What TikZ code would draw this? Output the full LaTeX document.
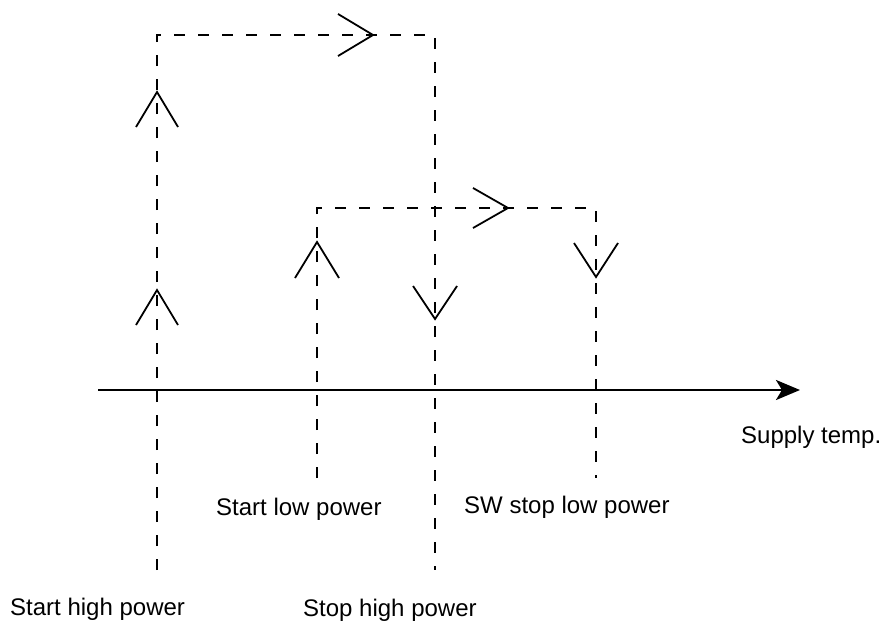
\documentclass[tikz,border=0pt]{standalone}
\usepackage{fontspec}
\setmainfont{Liberation Sans}
\usetikzlibrary{arrows.meta}

\begin{document}
\begin{tikzpicture}[x=1pt,y=-1pt]
\tikzstyle{every node}+=[inner sep=0pt,font=\fontsize{24}{28}\selectfont]
\tikzstyle{trip}=[black,line width=1.6pt,dash pattern=on 11pt off 13pt]
\tikzstyle{chev}=[black,line width=1.8pt]
\useasboundingbox (0,0) rectangle (881,621);
% temperature axis
\coordinate (ax0) at (98,390);
\coordinate (ax1) at (800,390);
\draw [black,line width=2.6pt,-{Stealth[length=24pt,width=20pt,inset=6pt]}] (ax0) -- (ax1);
\node [anchor=base west] (supply) at (741,443) {Supply temp.};
% high power loop
\coordinate (hp0) at (157,570);
\coordinate (hp1) at (157,35);
\coordinate (hp2) at (435,35);
\coordinate (hp3) at (435,570);
\draw [trip] (hp0) -- (hp1) -- (hp2) -- (hp3);
% low power loop
\coordinate (lp0) at (317,478);
\coordinate (lp1) at (317,208);
\coordinate (lp2) at (596,208);
\coordinate (lp3) at (596,478);
\draw [trip] (lp0) -- (lp1) -- (lp2) -- (lp3);
% open arrow marks
\coordinate (up1) at (157,92);
\coordinate (up2) at (157,290);
\coordinate (up3) at (317,242);
\coordinate (dn1) at (435,319);
\coordinate (dn2) at (596,277);
\coordinate (rt1) at (373,35);
\coordinate (rt2) at (508,208);
\draw [chev] ([shift={(-21,35)}]up1) -- (up1) -- ++(21,35);
\draw [chev] ([shift={(-21,35)}]up2) -- (up2) -- ++(21,35);
\draw [chev] ([shift={(-22,36)}]up3) -- (up3) -- ++(22,36);
\draw [chev] ([shift={(-22,-33)}]dn1) -- (dn1) -- ++(22,-33);
\draw [chev] ([shift={(-22,-34)}]dn2) -- (dn2) -- ++(22,-34);
\draw [chev] ([shift={(-35,-21)}]rt1) -- (rt1) -- ++(-35,21);
\draw [chev] ([shift={(-35,-20)}]rt2) -- (rt2) -- ++(-35,20);
% labels
\node [anchor=base west] (slp) at (216,515) {Start low power};
\node [anchor=base west] (swlp) at (464,513) {SW stop low power};
\node [anchor=base west] (shp) at (10,615) {Start high power};
\node [anchor=base west] (sthp) at (303,616) {Stop high power};
\end{tikzpicture}
\end{document}
